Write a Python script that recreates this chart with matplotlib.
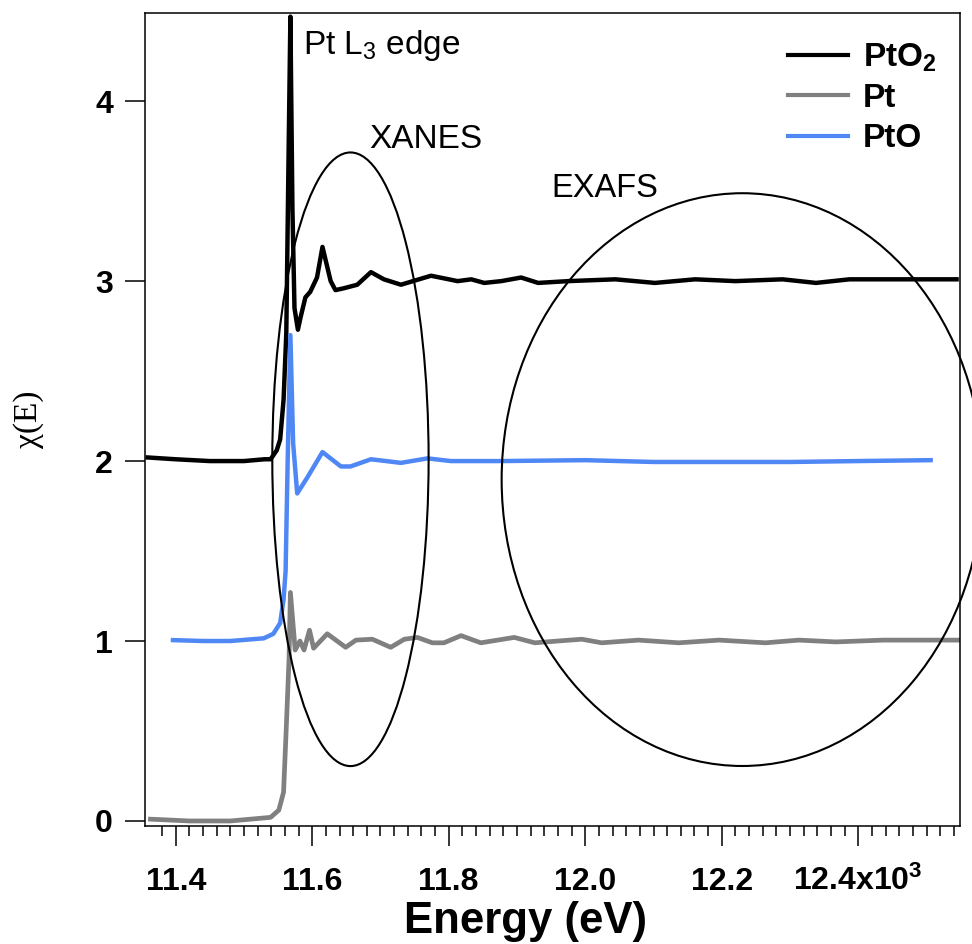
import numpy as np
import matplotlib
matplotlib.use("Agg")
import matplotlib.pyplot as plt
from matplotlib.patches import Ellipse

plt.rcParams['font.family'] = ['Liberation Sans', 'DejaVu Sans']
plt.rcParams['mathtext.fontset'] = 'custom'
plt.rcParams['mathtext.default'] = 'regular'

# Data (energy in eV)
pto2_e = [11359, 11400, 11450, 11500, 11530, 11539, 11548, 11553, 11558, 11562, 11565, 11568,
          11571, 11574, 11579, 11583, 11590, 11597, 11607, 11615, 11627, 11634, 11646, 11666,
          11686, 11705, 11730, 11774, 11813, 11833, 11852, 11877, 11906, 11931, 11975, 12044,
          12102, 12161, 12220, 12289, 12338, 12387, 12544]
pto2_v = [2.02, 2.01, 2.00, 2.00, 2.01, 2.01, 2.06, 2.12, 2.34, 2.71, 3.60, 4.47,
          3.40, 2.85, 2.73, 2.80, 2.91, 2.94, 3.02, 3.19, 3.00, 2.95, 2.96, 2.98,
          3.05, 3.01, 2.98, 3.03, 3.00, 3.01, 2.99, 3.00, 3.02, 2.99, 3.00, 3.01,
          2.99, 3.01, 3.00, 3.01, 2.99, 3.01, 3.01]

pt_e = [11363, 11420, 11480, 11539, 11551, 11558, 11562, 11566, 11568, 11575, 11582, 11588,
        11596, 11602, 11622, 11649, 11664, 11688, 11715, 11735, 11754, 11776, 11793, 11818,
        11847, 11896, 11926, 11960, 11995, 12024, 12078, 12137, 12196, 12264, 12313, 12367,
        12436, 12546]
pt_v = [0.01, 0.00, 0.00, 0.02, 0.06, 0.16, 0.52, 0.90, 1.27, 0.95, 1.00, 0.95,
        1.06, 0.96, 1.04, 0.965, 1.005, 1.01, 0.965, 1.01, 1.02, 0.99, 0.99, 1.03,
        0.99, 1.02, 0.99, 1.00, 1.01, 0.99, 1.005, 0.99, 1.005, 0.99, 1.005, 0.995,
        1.005, 1.005]

pto_e = [11396, 11440, 11480, 11529, 11543, 11553, 11558, 11561, 11564, 11568, 11572, 11578,
         11593, 11615, 11642, 11656, 11686, 11730, 11769, 11803, 11877, 12000, 12100, 12200,
         12300, 12400, 12506]
pto_v = [1.005, 1.00, 1.00, 1.015, 1.04, 1.10, 1.23, 1.39, 2.00, 2.70, 2.10, 1.82,
         1.91, 2.05, 1.97, 1.97, 2.01, 1.99, 2.015, 2.00, 2.00, 2.005, 1.995, 1.995,
         1.995, 2.00, 2.005]

xtick_vals = [11400, 11600, 11800, 12000, 12200, 12400]
xtick_labels = ['11.4', '11.6', '11.8', '12.0', '12.2', '12.4x10$^3$']
ytick_vals = [0, 1, 2, 3, 4]

fig = plt.figure(figsize=(9.72, 9.44), dpi=100)
ax = fig.add_axes([145 / 972, 1 - 826 / 944, 815 / 972, 813 / 944])

ax.plot(pto2_e, pto2_v, color='black', lw=3.2, label='PtO$_2$', solid_joinstyle='round')
ax.plot(pto_e, pto_v, color='#4f87f5', lw=3.2, label='PtO', solid_joinstyle='round')
ax.plot(pt_e, pt_v, color='#808080', lw=3.4, label='Pt', solid_joinstyle='round')

# annotation ellipses
ax.add_patch(Ellipse((11656, 2.01), 229, 3.41, fill=False, ec='black', lw=1.5, zorder=5))
ax.add_patch(Ellipse((12230, 1.897), 705, 3.183, fill=False, ec='black', lw=1.5,
                     zorder=5, clip_on=False))

ax.text(11587, 4.26, 'Pt L$_3$ edge', fontsize=24, va='baseline')
ax.text(11683, 3.74, 'XANES', fontsize=24, va='baseline')
ax.text(11950, 3.467, 'EXAFS', fontsize=23.5, va='baseline')

ax.set_xlim(11355, 12549)
ax.set_ylim(-0.028, 4.49)

ax.set_xticks(xtick_vals, xtick_labels)
ax.set_xticks(np.arange(11380, 12541, 20), minor=True)
ax.set_yticks(ytick_vals)
ax.tick_params(axis='both', which='major', direction='out', length=14.4, width=1.1,
               labelsize=23, top=False, right=False)
ax.tick_params(axis='x', which='major', pad=31.5)
ax.tick_params(axis='y', which='major', pad=8.6)
ax.tick_params(axis='x', which='minor', direction='out', length=7, width=1.1)
for lab in ax.get_xticklabels():
    lab.set_fontweight('bold')
    lab.set_va('baseline')
for lab in ax.get_yticklabels():
    lab.set_fontweight('bold')

for sp in ax.spines.values():
    sp.set_linewidth(1.1)

ax.set_xlabel('Energy (eV)', fontsize=31.5, fontweight='bold')
ax.xaxis.set_label_coords(0.467, -0.092)
ax.set_ylabel('χ(E)', fontsize=24, family=['Liberation Serif', 'DejaVu Serif'])
ax.yaxis.set_label_coords(-0.124, 0.5)

handles, labels = ax.get_legend_handles_labels()
order = [0, 2, 1]
leg = ax.legend([handles[i] for i in order], [labels[i] for i in order],
                loc='upper right', bbox_to_anchor=(1.008, 1.002), frameon=False,
                prop={'weight': 'bold', 'size': 24}, handlelength=1.8,
                handletextpad=0.45, labelspacing=0.28)
for line in leg.get_lines():
    line.set_linewidth(3.0)

fig.savefig('out.png', dpi=100)
